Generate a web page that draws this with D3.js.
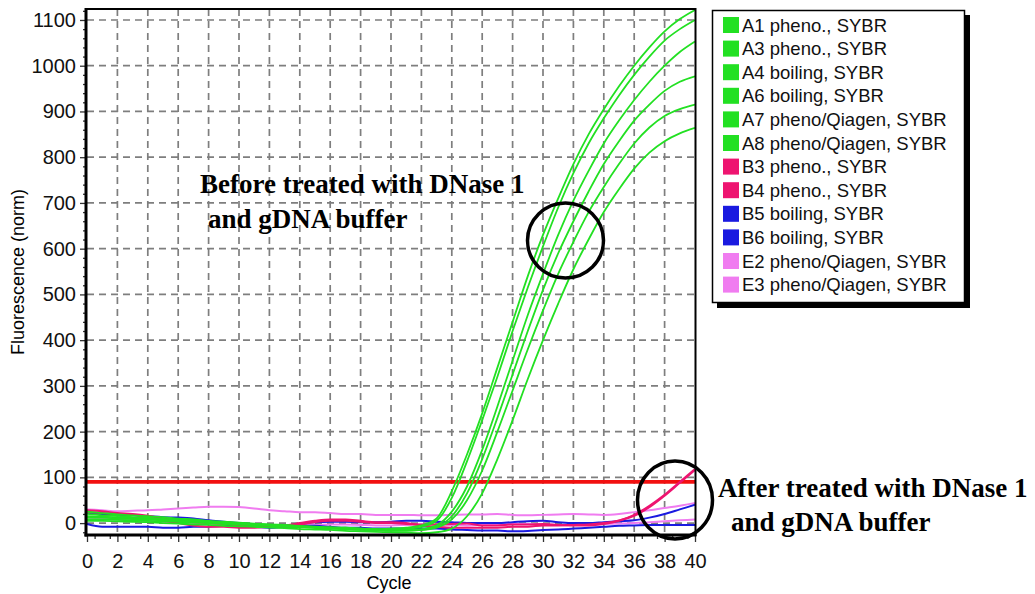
<!DOCTYPE html>
<html>
<head>
<meta charset="utf-8">
<script src="https://cdnjs.cloudflare.com/ajax/libs/d3/7.8.5/d3.min.js"></script>
<style>
  body { margin: 0; background: #fff; }
  svg { display: block; font-family: "Liberation Sans", Arial, sans-serif; }
</style>
</head>
<body>
<svg id="chart" width="1035" height="594"></svg>
<script>
/////////////////////////////////////////////////
// data (cycle 0..40)
var cycles = d3.range(0, 41);
var xTicks = [0,2,4,6,8,10,12,14,16,18,20,22,24,26,28,30,32,34,36,38,40];
var yTicks = [0,100,200,300,400,500,600,700,800,900,1000,1100];
var threshold = 90;

var seriesNames = ["A1 pheno., SYBR","A3 pheno., SYBR","A4 boiling, SYBR","A6 boiling, SYBR",
  "A7 pheno/Qiagen, SYBR","A8 pheno/Qiagen, SYBR","B3 pheno., SYBR","B4 pheno., SYBR",
  "B5 boiling, SYBR","B6 boiling, SYBR","E2 pheno/Qiagen, SYBR","E3 pheno/Qiagen, SYBR"];
var seriesColors = ["#22e022","#22e022","#22e022","#22e022","#22e022","#22e022",
  "#ee1470","#ee1470","#1a1ae0","#1a1ae0","#f07cf0","#f07cf0"];

var a1 = [20,17,16,13,12,9,8,6,3,2,0,-3,-4,-6,-8,-9,-11,-10,-12,-13,-12,-10,
  -5,10,70,150,240,340,440,540,630,710,785,850,905,955,1000,1040,1075,1102,1122];
var a3 = [12,12,10,9,8,6,5,3,2,0,-1,-3,-5,-6,-8,-9,-10,-12,-13,-14,-14,-12,
  -8,5,55,135,225,320,420,515,605,690,765,830,885,935,980,1020,1055,1080,1100];
var a4 = [25,22,19,17,15,13,10,8,5,3,1,-1,-3,-4,-6,-8,-9,-10,-12,-13,-15,-15,
  -13,-5,25,80,160,255,355,455,545,630,705,770,830,880,925,965,1000,1030,1053];
var a6 = [8,8,7,6,5,4,3,1,0,-2,-3,-5,-6,-8,-9,-11,-12,-13,-15,-16,-17,-17,
  -15,-8,15,65,140,230,325,420,510,590,660,725,785,835,880,915,945,965,977];
var a7 = [15,14,13,11,10,8,7,5,3,1,0,-2,-4,-5,-7,-9,-11,-12,-14,-15,-16,-16,
  -15,-10,8,50,115,200,290,380,465,545,615,680,735,785,830,865,890,905,915];
var a8 = [5,5,4,3,2,0,-1,-3,-4,-6,-7,-8,-10,-11,-13,-14,-15,-17,-18,-19,-20,-21,
  -22,-20,-12,15,65,140,225,315,400,480,555,620,680,730,775,810,835,852,864];
var b3 = [28,26,22,20,16,10,5,2,0,-2,-5,-7,-8,-8,-3,2,5,5,3,0,0,-2,
  -3,-3,-2,-1,-5,-5,-3,-3,-2,-4,-5,-5,-2,5,18,38,62,90,118];
var b4 = [24,22,20,18,12,5,0,-5,-8,-8,-10,-10,-8,-5,0,5,8,8,5,2,2,0,
  -5,-8,-10,-10,-10,-10,-8,-8,-5,-5,-4,-3,0,6,16,35,60,88,116];
var b5 = [22,20,18,17,15,13,12,10,6,3,0,-3,-5,-5,-2,2,3,3,2,2,3,5,
  5,3,2,0,0,0,2,4,5,2,0,0,2,4,6,12,20,30,40];
var b6 = [-2,-8,-8,-8,-8,-10,-10,-8,-8,-6,-5,-8,-10,-8,-6,-6,-8,-10,-10,-12,-12,-12,
  -12,-12,-14,-15,-16,-16,-18,-17,-15,-14,-12,-10,-8,-6,-5,-4,-4,-4,-4];
var e2 = [30,28,26,27,28,30,32,34,36,36,35,32,28,26,24,24,22,20,20,18,18,18,
  17,17,18,19,19,20,18,17,18,19,20,19,18,20,24,28,33,38,44];
var e3 = [12,10,8,6,4,3,2,0,-1,-2,-3,-4,-4,-5,-5,-4,-3,-3,-4,-5,-5,-4,
  -3,-3,-4,-5,-4,-3,-2,-2,-3,-4,-4,-3,-2,-1,0,2,4,6,8];

var seriesValues = [a1,a3,a4,a6,a7,a8,b3,b4,b5,b6,e2,e3];

/////////////////////////////////////////////////
var svg = d3.select("#chart");
var x = d3.scaleLinear().domain([0, 40]).range([87, 695]);
var y = d3.scaleLinear().domain([-26, 1124]).range([535, 9]);

svg.append("rect").attr("width",1035).attr("height",594).attr("fill","#fff");

// grid
var grid = svg.append("g")
  .attr("stroke","#7e7e7e")
  .attr("stroke-width",1.7)
  .attr("stroke-dasharray","7,5");
grid.selectAll("line.h").data(yTicks).enter().append("line")
  .attr("class","h")
  .attr("x1",x(0)).attr("x2",x(40))
  .attr("y1",function(d){ return y(d); })
  .attr("y2",function(d){ return y(d); });
grid.selectAll("line.v").data(xTicks.slice(1, -1)).enter().append("line")
  .attr("class","v")
  .attr("y1",y.range()[1]).attr("y2",y.range()[0])
  .attr("x1",function(d){ return x(d); })
  .attr("x2",function(d){ return x(d); });

// clip for the curves
svg.append("clipPath").attr("id","plot")
  .append("rect")
  .attr("x",x(0)).attr("y",y.range()[1])
  .attr("width",x(40)-x(0)).attr("height",y.range()[0]-y.range()[1]);

// threshold
svg.append("line")
  .attr("x1",x(0)).attr("x2",x(40))
  .attr("y1",y(threshold)).attr("y2",y(threshold))
  .attr("stroke","#f21010")
  .attr("stroke-width",3.8);

// curves, low ones first so the green stays on top
var line = d3.line()
  .x(function(d,i){ return x(cycles[i]); })
  .y(function(d){ return y(d); })
  .curve(d3.curveMonotoneX);

var order = [11,10,9,8,7,6,5,4,3,2,1,0];
var curves = svg.append("g").attr("clip-path","url(#plot)");
order.forEach(function(k) {
  var green = k < 6;
  curves.append("path")
    .attr("d", line(seriesValues[k]))
    .attr("fill","none")
    .attr("stroke", seriesColors[k])
    .attr("stroke-width", green ? 1.8 : 2)
    .attr("stroke-linejoin","round");
});

// axes
svg.append("g")
  .attr("transform","translate(0,535)")
  .call(d3.axisBottom(x).tickValues(xTicks).tickSize(7).tickPadding(12));
svg.append("g")
  .attr("transform","translate(0,535)")
  .call(d3.axisBottom(x).tickValues(d3.range(1,80,2).map(function(d){ return d/2; }))
    .tickSize(4).tickFormat(""));
svg.append("g")
  .attr("transform","translate(86,0)")
  .call(d3.axisLeft(y).tickValues(yTicks).tickSize(6).tickPadding(4).tickFormat(d3.format("d")));
svg.append("g")
  .attr("transform","translate(86,0)")
  .call(d3.axisLeft(y).tickValues([-20,20,40,60,80,120,140,160,180,220,240,260,280,320,340,360,380,
      420,440,460,480,520,540,560,580,620,640,660,680,720,740,760,780,820,840,860,880,
      920,940,960,980,1020,1040,1060,1080,1120])
    .tickSize(3).tickFormat(""));

svg.selectAll(".domain").remove();
svg.selectAll(".tick line").attr("stroke","#333").attr("stroke-width",1.3);
svg.selectAll(".tick text")
  .attr("fill","#111")
  .style("font-size","20px")
  .style("font-family","'Liberation Sans', Arial, sans-serif");

// frame
svg.append("line").attr("x1",86).attr("x2",86).attr("y1",8).attr("y2",536.5)
  .attr("stroke","#000").attr("stroke-width",3);
svg.append("line").attr("x1",84.5).attr("x2",696.5).attr("y1",535).attr("y2",535)
  .attr("stroke","#000").attr("stroke-width",3);
svg.append("line").attr("x1",86).attr("x2",695.5).attr("y1",9).attr("y2",9)
  .attr("stroke","#000").attr("stroke-width",1.8);
svg.append("line").attr("x1",695.5).attr("x2",695.5).attr("y1",8).attr("y2",536)
  .attr("stroke","#000").attr("stroke-width",2);

// axis titles
svg.append("text")
  .attr("x",389).attr("y",589)
  .attr("text-anchor","middle")
  .style("font-size","18px")
  .text("Cycle");
svg.append("text")
  .attr("transform","translate(24,272) rotate(-90)")
  .attr("text-anchor","middle")
  .style("font-size","18px")
  .text("Fluorescence (norm)");

// legend
var legend = svg.append("g");
legend.append("rect")
  .attr("x",717).attr("y",15).attr("width",253).attr("height",293)
  .attr("fill","#000");
legend.append("rect")
  .attr("x",712.5).attr("y",10.5).attr("width",252).attr("height",292)
  .attr("fill","#fff").attr("stroke","#000").attr("stroke-width",1.5);
var rows = legend.selectAll("g.row").data(seriesNames).enter().append("g")
  .attr("class","row")
  .attr("transform",function(d,i){ return "translate(0," + (25 + i*23.6) + ")"; });
rows.append("rect")
  .attr("x",723).attr("y",-8).attr("width",16).attr("height",16)
  .attr("fill",function(d,i){ return seriesColors[i]; });
rows.append("text")
  .attr("x",742).attr("y",6.5)
  .style("font-size","18.5px")
  .attr("fill","#111")
  .text(function(d){ return d; });

// annotations
var note = svg.append("g")
  .style("font-family","'Liberation Serif','Times New Roman',serif")
  .style("font-weight","bold")
  .style("font-size","27px")
  .attr("fill","#000");
note.append("text").attr("x",200).attr("y",193).text("Before treated with DNase 1");
note.append("text").attr("x",208).attr("y",228).text("and gDNA buffer");
note.append("text").attr("x",718).attr("y",497).text("After treated with DNase 1");
note.append("text").attr("x",731).attr("y",531).text("and gDNA buffer");

svg.append("ellipse")
  .attr("cx",565.5).attr("cy",240.5).attr("rx",38).attr("ry",37.5)
  .attr("fill","none").attr("stroke","#000").attr("stroke-width",3.5);
svg.append("ellipse")
  .attr("cx",675).attr("cy",500).attr("rx",37.5).attr("ry",39)
  .attr("fill","none").attr("stroke","#000").attr("stroke-width",3.5);
</script>
</body>
</html>
